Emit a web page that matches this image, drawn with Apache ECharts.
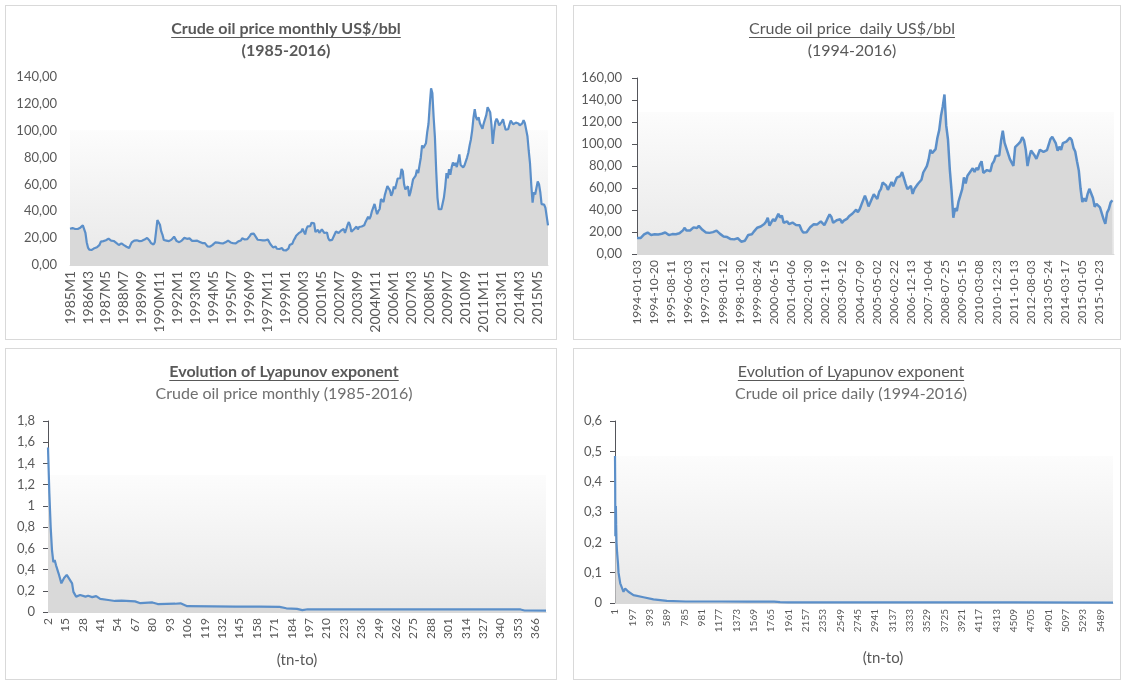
<!DOCTYPE html>
<html>
<head>
<meta charset="utf-8">
<title>Crude oil price and Lyapunov exponent</title>
<script src="https://cdn.jsdelivr.net/npm/echarts@6/dist/echarts.min.js"></script>
<style>
html, body { margin: 0; padding: 0; background: #fff; }
.panel { position: absolute; box-sizing: border-box; border: 1px solid #d9d9d9; background: #fff; }
#p1 { left: 5px; top: 5px; width: 552px; height: 335px; }
#p2 { left: 573px; top: 5px; width: 548px; height: 335px; }
#p3 { left: 5px; top: 348px; width: 552px; height: 332px; }
#p4 { left: 573px; top: 348px; width: 548px; height: 332px; }
</style>
</head>
<body>
<div id="p1" class="panel"></div>
<div id="p2" class="panel"></div>
<div id="p3" class="panel"></div>
<div id="p4" class="panel"></div>
<script>
// ---- data ----
// monthly crude price, 1985M1 .. 2016M1
const monthlyYears = [1985, 2016]
const monthlyPrice = [
  27.0, 27.2, 27.5, 27.3, 26.8, 26.3, 26.8, 27.3, 27.8, 28.5, 29.5, 28.5,
  24.0, 17.0, 13.0, 11.5, 12.8, 11.2, 9.8, 12.5, 13.5, 13.2, 14.2, 15.0,
  17.4, 17.8, 17.8, 18.2, 18.4, 19.0, 19.6, 18.8, 18.2, 18.6, 17.9, 16.8,
  16.4, 15.8, 14.9, 16.0, 16.1, 15.4, 14.8, 14.6, 13.6, 12.4, 12.6, 14.8,
  16.8, 16.6, 18.2, 19.6, 18.4, 17.8, 17.8, 17.2, 18.0, 19.2, 18.9, 19.9,
  20.2, 19.4, 18.0, 16.4, 16.0, 15.2, 17.0, 25.0, 33.5, 34.2, 30.0, 25.0,
  22.5, 18.6, 18.0, 18.2, 18.0, 17.8, 18.4, 18.9, 19.6, 21.1, 20.5, 17.8,
  17.2, 17.0, 17.1, 18.2, 19.1, 20.2, 19.9, 19.5, 19.6, 19.8, 19.1, 18.0,
  17.2, 18.0, 18.2, 18.1, 17.9, 17.2, 16.2, 16.3, 15.9, 16.3, 15.2, 13.9,
  14.0, 13.6, 13.6, 15.0, 16.0, 16.8, 17.6, 16.7, 15.8, 16.3, 17.0, 16.0,
  16.6, 16.9, 16.8, 18.2, 18.0, 16.8, 15.9, 16.2, 16.4, 16.1, 16.9, 17.6,
  18.2, 18.2, 19.9, 20.8, 19.0, 18.4, 19.3, 20.1, 21.7, 23.2, 22.6, 23.3,
  22.8, 20.4, 18.8, 17.6, 18.6, 17.6, 18.3, 18.4, 18.4, 19.6, 18.9, 17.2,
  15.4, 14.1, 13.1, 13.3, 13.8, 12.1, 12.0, 11.9, 13.1, 12.7, 11.1, 10.0,
  10.8, 10.5, 12.2, 14.9, 15.2, 15.8, 18.2, 19.8, 21.8, 21.6, 23.7, 24.6,
  24.9, 27.0, 27.2, 22.8, 26.9, 28.8, 27.7, 29.0, 31.5, 30.2, 31.0, 24.6,
  24.3, 26.2, 23.9, 24.5, 26.6, 26.2, 23.8, 24.5, 24.2, 19.9, 18.3, 18.5,
  18.7, 19.7, 22.9, 25.0, 25.2, 23.8, 25.2, 25.7, 27.1, 26.8, 24.0, 26.8,
  29.8, 32.0, 29.5, 24.8, 25.1, 26.6, 27.4, 28.6, 26.5, 28.3, 28.0, 28.7,
  30.1, 29.6, 32.1, 31.9, 36.0, 34.2, 36.3, 40.2, 40.4, 45.5, 41.5, 37.9,
  40.2, 41.7, 49.1, 49.6, 46.9, 52.0, 53.1, 58.8, 60.0, 55.6, 51.5, 53.7,
  58.5, 56.6, 57.9, 64.4, 65.1, 64.6, 71.5, 69.8, 60.1, 56.3, 55.8, 58.6,
  51.3, 54.3, 58.8, 63.8, 64.6, 66.5, 71.0, 68.4, 74.2, 79.9, 89.0, 87.1,
  88.3, 90.6, 99.0, 105.2, 119.4, 131.5, 128.0, 110.0, 95.0, 70.0, 50.0, 41.5,
  42.0, 41.5, 45.8, 50.2, 58.0, 68.4, 64.6, 71.4, 67.2, 72.7, 76.3, 74.0,
  76.0, 72.9, 77.2, 82.3, 74.5, 73.2, 72.7, 74.2, 74.5, 80.0, 83.6, 89.0,
  93.5, 100.3, 109.8, 116.0, 109.9, 108.0, 110.0, 105.5, 106.0, 101.5, 105.5, 106.0,
  111.8, 117.5, 117.9, 113.8, 104.5, 90.2, 99.6, 106.5, 108.9, 107.0, 104.0, 104.8,
  106.6, 108.5, 104.4, 100.8, 100.6, 101.1, 104.5, 107.5, 107.2, 104.8, 104.1, 106.0,
  104.7, 105.4, 103.9, 104.2, 105.4, 107.9, 105.6, 100.8, 95.9, 85.1, 75.6, 59.5,
  46.5, 54.1, 52.5, 57.3, 62.2, 60.2, 54.2, 45.3, 44.8, 45.0, 42.5, 36.0,
  29.5
]

// daily crude price, read once per month (1994-01 .. 2016-06), placed on the trading-day index
const DAYS_PER_MONTH = 21.15
const DAY_TICK = 205
const dailyTicks = [
  '1994-01-03', '1994-10-20', '1995-08-11', '1996-06-03', '1997-03-21', '1998-01-12', '1998-10-30',
  '1999-08-24', '2000-06-15', '2001-04-06', '2002-01-30', '2002-11-19', '2003-09-12', '2004-07-09',
  '2005-05-02', '2006-02-22', '2006-12-13', '2007-10-04', '2008-07-25', '2009-05-15', '2010-03-08',
  '2010-12-23', '2011-10-13', '2012-08-03', '2013-05-24', '2014-03-17', '2015-01-05', '2015-10-23'
]
const dailyPrice = [
  14.5, 14.2, 14.5, 16.2, 17.8, 19.0, 19.5, 18.0, 17.3, 17.6, 18.0, 17.0,
  17.8, 18.4, 18.4, 19.8, 19.5, 18.2, 17.2, 17.8, 18.1, 17.3, 17.9, 18.9,
  18.8, 19.2, 21.5, 23.8, 21.3, 20.4, 21.4, 22.1, 24.2, 25.0, 23.6, 25.6,
  25.0, 22.0, 20.9, 19.6, 20.8, 19.2, 19.6, 19.9, 19.8, 21.2, 20.1, 18.3,
  16.6, 16.0, 15.0, 15.4, 14.8, 13.6, 14.0, 13.3, 14.9, 14.3, 12.8, 11.2,
  12.4, 12.0, 14.6, 17.3, 17.8, 17.9, 20.1, 21.3, 23.9, 22.6, 25.0, 26.1,
  27.2, 29.4, 33.0, 25.7, 28.8, 31.8, 29.7, 31.2, 36.5, 33.1, 35.0, 28.4,
  29.6, 29.6, 27.2, 27.4, 28.6, 27.6, 26.4, 27.4, 26.2, 22.2, 19.6, 19.3,
  19.7, 20.7, 24.4, 26.2, 27.0, 25.5, 26.9, 28.4, 29.7, 28.9, 26.3, 29.4,
  32.9, 36.0, 33.6, 28.3, 28.1, 30.7, 30.8, 31.6, 28.3, 30.3, 31.1, 32.2,
  34.3, 34.7, 36.8, 36.7, 40.3, 38.0, 40.7, 44.9, 46.0, 53.1, 48.5, 43.3,
  46.8, 48.0, 54.3, 53.0, 50.0, 56.4, 59.0, 65.0, 65.6, 62.4, 58.3, 59.4,
  65.5, 61.6, 62.7, 69.4, 70.8, 70.9, 74.4, 73.0, 63.8, 58.9, 59.1, 62.0,
  54.6, 59.3, 60.4, 63.9, 63.5, 67.5, 74.1, 72.4, 79.9, 85.8, 94.8, 91.7,
  93.0, 95.4, 105.5, 112.6, 125.4, 133.9, 145.0, 116.7, 104.1, 76.6, 57.3, 33.0,
  41.7, 39.1, 47.9, 49.7, 59.0, 69.6, 64.2, 71.1, 69.4, 75.7, 78.0, 74.5,
  78.3, 76.4, 81.2, 84.3, 73.7, 75.3, 76.3, 76.6, 75.2, 81.9, 84.3, 89.2,
  89.5, 89.6, 102.9, 112.0, 101.3, 96.3, 97.3, 86.3, 85.5, 80.0, 97.2, 98.6,
  100.3, 102.2, 106.2, 103.3, 94.7, 80.0, 87.9, 94.1, 94.5, 89.5, 86.5, 87.9,
  94.8, 95.3, 92.9, 92.0, 94.5, 95.8, 104.6, 106.6, 108.0, 100.5, 93.9, 97.6,
  94.6, 100.8, 100.8, 102.1, 102.2, 105.8, 103.6, 96.5, 93.2, 84.4, 75.8, 59.3,
  47.2, 50.6, 47.8, 54.5, 59.3, 59.8, 50.9, 42.9, 45.5, 46.2, 42.4, 37.2,
  31.7, 27.5, 37.6, 40.8, 46.7, 48.8
]

// Lyapunov exponent, monthly series (tn-to = 2 .. 374)
const lyapMonthlyX = [2, 3, 4, 5, 6, 7, 8, 10, 12, 14, 16, 18, 20, 21, 23, 26, 30, 32, 35, 38,
  41, 47, 52, 57, 67, 71, 80, 84, 97, 101, 106, 125, 142, 160, 175, 180, 188, 192, 196, 250,
  300, 355, 358, 374]
const lyapMonthlyY = [1.55, 1.12, 0.80, 0.58, 0.47, 0.49, 0.44, 0.36, 0.27, 0.32, 0.35, 0.31, 0.27, 0.19, 0.145, 0.16, 0.145, 0.153, 0.14, 0.15,
  0.123, 0.113, 0.104, 0.107, 0.10, 0.083, 0.09, 0.075, 0.078, 0.082, 0.055, 0.053, 0.05, 0.05, 0.048, 0.035, 0.03, 0.018, 0.026, 0.025,
  0.025, 0.024, 0.014, 0.013]

// Lyapunov exponent, daily series (tn-to = 1 .. 5630)
const lyapDailyX = [1, 3, 5, 8, 11, 14, 18, 25, 35, 41, 60, 80, 97, 116, 135, 153, 210, 323, 436, 587,
  800, 1200, 1500, 1717, 1800, 1867, 1960, 3000, 4500, 5630]
const lyapDailyY = [0.485, 0.40, 0.22, 0.25, 0.32, 0.26, 0.20, 0.165, 0.13, 0.10, 0.065, 0.05, 0.037, 0.048, 0.042, 0.037, 0.026, 0.019, 0.012, 0.007,
  0.005, 0.005, 0.0045, 0.005, 0.0045, 0.003, 0.002, 0.002, 0.0018, 0.0015]

// ---- styling helpers ----
const TEXT_COLOR = '#595959'
const SUB_COLOR = '#6f6f6f'
const LINE_COLOR = '#5b8fc9'
const FILL_COLOR = '#d9d9d9'
const FONT = 'Lato, "Open Sans", sans-serif'
const TITLE_SIZE = 16

const textWidth = (str, font) => {
  const ctx = document.createElement('canvas').getContext('2d')
  ctx.font = font
  return ctx.measureText(str).width
}

const plotBackground = (edge) => new echarts.graphic.LinearGradient(0, 0, 0, 1, [
  { offset: 0, color: '#ffffff' },
  { offset: edge, color: '#ffffff' },
  { offset: edge + 0.005, color: '#fcfcfc' },
  { offset: 1, color: '#e8e8e8' }
])

// two-line title, the first line underlined
const titleBlock = (cx, line1, line2, titleBold, subBold) => {
  const weight1 = titleBold ? 'bold' : 'normal'
  const w = textWidth(line1, weight1 + ' ' + TITLE_SIZE + 'px Lato')
  return {
    title: [
      {
        text: line1, left: cx, top: 15, textAlign: 'center', padding: 0,
        textStyle: { fontFamily: FONT, fontSize: TITLE_SIZE, fontWeight: weight1, color: TEXT_COLOR }
      },
      {
        text: line2, left: cx, top: 37, textAlign: 'center', padding: 0,
        textStyle: { fontFamily: FONT, fontSize: TITLE_SIZE, fontWeight: subBold ? 'bold' : 'normal', color: subBold ? TEXT_COLOR : SUB_COLOR }
      }
    ],
    graphic: [{
      type: 'line', silent: true,
      shape: { x1: cx - w / 2, y1: 31.5, x2: cx + w / 2, y2: 31.5 },
      style: { stroke: TEXT_COLOR, lineWidth: 1 }
    }]
  }
}

const priceLabel = v => v.toFixed(2).replace('.', ',')
const smallLabel = v => String(+v.toFixed(1)).replace('.', ',')

const lineSeries = (data, width) => ({
  type: 'line',
  data: data,
  symbol: 'none',
  lineStyle: { color: LINE_COLOR, width: width },
  areaStyle: { color: FILL_COLOR, opacity: 1 },
  animation: false
})

// ---- charts ----
const initMonthlyPriceChart = () => {
  const chart = echarts.init(document.getElementById('p1'))
  const months = []
  for (let y = monthlyYears[0]; y <= monthlyYears[1]; y++) {
    for (let m = 1; m <= 12; m++) months.push(y + 'M' + m)
  }
  months.length = monthlyPrice.length

  const option = Object.assign(titleBlock(280, 'Crude oil price monthly US$/bbl', '(1985-2016)', true, true), {
    grid: { left: 64, right: 8, top: 71, bottom: 74, show: true, borderWidth: 0, backgroundColor: plotBackground(0.28) },
    xAxis: {
      type: 'category',
      data: months,
      boundaryGap: false,
      axisLine: { lineStyle: { color: '#d9d9d9' } },
      axisTick: { show: false },
      axisLabel: { interval: 13, rotate: 90, margin: 6, color: TEXT_COLOR, fontFamily: FONT, fontSize: 14 }
    },
    yAxis: {
      type: 'value', min: 0, max: 140, interval: 20,
      splitLine: { show: false },
      axisLabel: { formatter: priceLabel, margin: 13, color: TEXT_COLOR, fontFamily: FONT, fontSize: 13 }
    },
    series: [lineSeries(monthlyPrice, 2.2)]
  })
  chart.setOption(option)
}

const initDailyPriceChart = () => {
  const chart = echarts.init(document.getElementById('p2'))
  const data = dailyPrice.map((v, i) => [Math.round(i * DAYS_PER_MONTH), v])

  const option = Object.assign(titleBlock(278, 'Crude oil price  daily US$/bbl', '(1994-2016)', false, false), {
    grid: { left: 63, right: 6, top: 72, bottom: 85, show: true, borderWidth: 0, backgroundColor: plotBackground(0.19) },
    xAxis: {
      type: 'value', min: 0, max: 5709, interval: DAY_TICK,
      splitLine: { show: false },
      axisLine: { lineStyle: { color: '#d9d9d9' } },
      axisTick: { show: false },
      axisLabel: {
        rotate: 90, margin: 6, color: TEXT_COLOR, fontFamily: FONT, fontSize: 12, showMaxLabel: false,
        formatter: v => {
          const k = Math.round(v / DAY_TICK)
          return (Math.abs(v - k * DAY_TICK) < 1e-6 && dailyTicks[k]) || ''
        }
      }
    },
    yAxis: {
      type: 'value', min: 0, max: 160, interval: 20,
      splitLine: { show: false },
      axisLabel: { formatter: priceLabel, margin: 15, color: TEXT_COLOR, fontFamily: FONT, fontSize: 13 }
    },
    series: [lineSeries(data, 2.5)]
  })
  option.title[1].textStyle.color = TEXT_COLOR
  chart.setOption(option)
}

const initLyapunovChart = (id, cx, subtitle, titleBold, xs, ys, cfg) => {
  const chart = echarts.init(document.getElementById(id))
  const data = xs.map((x, i) => [x - cfg.first, ys[i]])

  const option = Object.assign(titleBlock(cx, 'Evolution of Lyapunov exponent', subtitle, titleBold, false), {
    grid: Object.assign({ show: true, borderWidth: 0, backgroundColor: plotBackground(cfg.edge) }, cfg.grid),
    xAxis: {
      type: 'value', min: 0, max: cfg.max, interval: cfg.step,
      name: '(tn-to)', nameLocation: 'middle', nameGap: cfg.nameGap,
      nameTextStyle: { color: TEXT_COLOR, fontFamily: FONT, fontSize: 15, padding: cfg.namePad },
      splitLine: { show: false },
      axisLine: { lineStyle: { color: '#d9d9d9' } },
      axisTick: { show: false },
      axisLabel: {
        rotate: 90, margin: 6, color: TEXT_COLOR, fontFamily: FONT, fontSize: cfg.labelSize, showMaxLabel: false,
        formatter: v => (v % cfg.step === 0 ? String(v + cfg.first) : '')
      }
    },
    yAxis: {
      type: 'value', min: 0, max: cfg.yMax, interval: cfg.yStep,
      splitLine: { show: false },
      axisLabel: { formatter: smallLabel, margin: 13, color: TEXT_COLOR, fontFamily: FONT, fontSize: 13 }
    },
    series: [lineSeries(data, 2.2)]
  })
  chart.setOption(option)
}

initMonthlyPriceChart()
initDailyPriceChart()
initLyapunovChart('p3', 278, 'Crude oil price monthly (1985-2016)', true, lyapMonthlyX, lyapMonthlyY, {
  first: 2, step: 13, max: 372, edge: 0.28, yMax: 1.8, yStep: 0.2, labelSize: 12,
  nameGap: 41, namePad: [0, 0, 0, 0],
  grid: { left: 42, right: 10, top: 72, bottom: 67 }
})
initLyapunovChart('p4', 277, 'Crude oil price daily (1994-2016)', false, lyapDailyX, lyapDailyY, {
  first: 1, step: 196, max: 5629, edge: 0.19, yMax: 0.6, yStep: 0.1, labelSize: 10,
  nameGap: 48, namePad: [0, 0, 0, 38],
  grid: { left: 41, right: 7, top: 72, bottom: 76 }
})
</script>
</body>
</html>
